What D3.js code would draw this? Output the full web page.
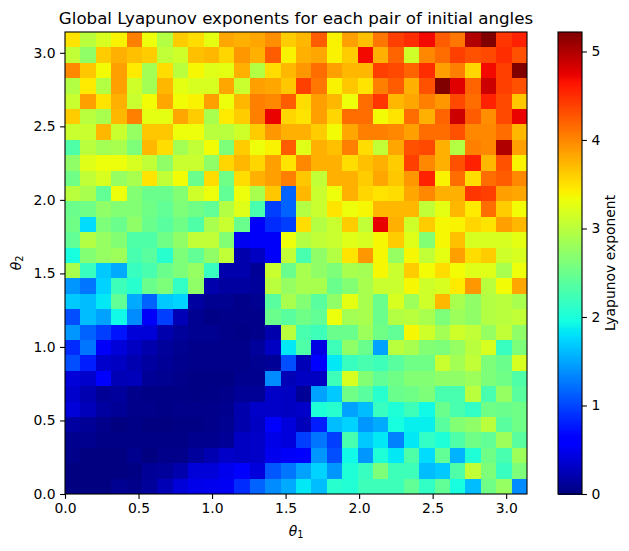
<!DOCTYPE html>
<html>
<head>
<meta charset="utf-8">
<script src="https://cdnjs.cloudflare.com/ajax/libs/d3/7.8.5/d3.min.js"></script>
<style>
  body { margin: 0; background: #fff; }
  text { font-family: "DejaVu Sans", sans-serif; fill: #000; }
  .tick text { font-size: 13.9px; }
  .domain, .tick line { stroke: #000; stroke-width: 1.1px; }
</style>
</head>
<body>
<div id="chart"></div>
<script>
// one row per theta2 value, top row of the picture first
let row29 = [3.49,3.0,3.19,3.41,4.05,3.33,2.96,3.62,3.53,3.28,3.83,3.78,3.83,3.96,3.62,3.74,4.24,3.41,3.87,3.69,4.1,4.4,4.5,4.7,4.24,4.1,5.0,5.22,4.45,4.57];
let row28 = [3.05,2.74,3.62,3.78,3.69,3.62,3.05,3.14,3.69,3.74,3.57,3.91,3.78,4.24,3.41,3.78,3.83,3.41,3.62,4.7,3.78,4.2,3.14,4.0,4.15,4.4,4.3,4.35,4.5,4.3];
let row27 = [4.0,3.65,3.36,3.87,3.45,2.86,3.53,3.0,3.38,3.24,3.28,3.78,2.96,3.53,3.74,3.91,4.15,3.87,3.74,3.74,4.4,4.35,4.2,4.5,3.87,4.05,3.57,4.7,4.4,5.22];
let row26 = [2.96,3.45,2.96,3.87,3.14,2.86,3.74,3.28,3.19,3.19,3.83,3.1,3.87,3.83,3.65,4.4,4.1,3.41,3.65,3.49,4.05,4.24,3.78,4.3,5.22,4.78,4.2,4.87,4.4,4.3];
let row25 = [3.1,3.87,3.49,3.78,3.1,3.36,3.83,3.36,3.41,3.87,3.33,3.74,4.05,4.0,4.24,3.53,3.87,3.74,3.33,4.15,4.45,3.74,3.83,4.05,3.91,4.35,4.15,4.57,4.35,3.65];
let row24 = [3.62,3.0,2.9,3.74,4.05,3.28,3.28,3.83,3.62,2.9,3.45,3.62,4.05,4.74,3.57,3.49,3.87,3.57,4.15,4.15,3.36,3.49,4.15,3.78,4.2,4.87,4.24,3.96,4.35,4.74];
let row23 = [3.1,3.1,3.74,3.1,2.78,3.65,3.65,3.33,3.33,3.0,3.0,3.14,3.62,3.91,3.78,3.78,3.62,3.36,3.83,4.05,4.05,4.0,3.87,4.15,4.15,4.3,4.0,4.0,4.15,3.74];
let row22 = [2.33,3.0,2.86,2.9,2.62,3.74,3.53,2.86,3.05,3.36,2.62,3.62,3.33,3.41,4.24,3.24,3.78,3.69,4.05,3.53,3.05,3.83,4.3,4.35,3.78,2.96,4.05,4.0,5.0,3.87];
let row21 = [2.74,3.24,3.33,3.33,3.19,3.05,2.74,3.1,3.1,2.74,3.57,3.74,3.57,3.87,3.49,4.0,3.78,3.78,3.53,3.69,3.78,3.62,4.4,4.0,3.78,4.3,4.57,3.74,4.3,3.41];
let row20 = [2.54,3.05,3.19,2.78,2.9,3.49,3.05,3.36,2.5,3.53,2.54,3.53,3.78,3.87,4.05,3.65,3.05,3.78,3.78,3.62,3.83,3.65,3.91,4.57,3.41,4.15,3.53,4.15,4.24,4.0];
let row19 = [3.0,2.9,2.44,3.33,2.66,2.5,2.5,2.66,3.14,3.33,2.44,3.33,2.9,3.65,1.16,3.74,3.1,3.33,3.78,3.57,3.49,3.53,3.83,4.0,3.78,3.78,4.45,4.4,3.87,3.83];
let row18 = [2.5,2.54,2.74,2.66,2.66,2.54,2.44,2.62,2.54,2.44,2.96,3.24,2.28,0.97,1.16,2.96,3.1,3.49,3.33,3.38,3.74,3.74,3.74,3.05,3.28,3.74,3.45,4.15,3.62,3.36];
let row17 = [2.54,1.78,2.62,2.5,2.74,2.5,2.39,2.54,2.33,2.9,3.1,2.5,0.55,0.87,0.97,3.53,2.96,3.1,3.62,3.05,4.75,3.78,3.14,3.62,3.38,3.41,3.57,3.49,3.87,3.74];
let row16 = [2.44,2.96,2.78,2.66,2.33,2.33,2.54,2.74,3.05,3.05,2.66,0.52,0.55,0.55,3.33,2.96,3.05,3.1,3.24,3.19,3.38,3.62,3.24,2.66,3.38,3.69,3.19,3.19,3.19,3.28];
let row15 = [1.98,2.66,2.78,2.82,2.28,2.39,2.08,2.62,2.44,2.74,3.05,0.2,0.3,0.55,3.05,2.28,2.74,2.96,3.49,3.91,3.38,2.78,3.38,3.05,3.28,3.87,3.53,3.62,3.14,3.19];
let row14 = [2.9,2.18,1.68,1.52,2.18,2.28,2.5,2.62,2.78,2.18,0.2,0.2,0.1,3.1,2.5,2.9,2.74,2.62,2.9,2.86,3.38,3.1,3.62,3.36,3.53,3.36,3.24,3.24,2.9,3.33];
let row13 = [1.42,1.25,1.73,2.22,2.08,2.5,2.62,2.14,2.74,0.2,0.15,0.15,0.12,3.0,2.78,2.9,2.9,2.5,2.66,2.9,3.1,3.1,3.38,3.14,3.19,3.45,3.91,3.0,3.36,3.83];
let row12 = [1.68,1.62,1.84,2.44,1.52,1.16,1.68,1.73,0.15,0.08,0.08,0.05,0.08,2.39,2.9,2.66,2.39,2.74,3.28,2.9,2.5,3.19,2.82,3.14,3.74,2.9,2.74,2.96,3.0,2.9];
let row11 = [1.05,1.62,1.48,1.93,1.37,0.55,0.97,0.25,0.08,0.03,0.05,0.05,0.05,2.5,2.39,2.54,2.44,3.33,2.86,2.9,2.5,2.96,3.0,2.9,2.62,2.82,2.74,2.96,3.0,3.05];
let row10 = [1.42,1.16,0.97,0.75,0.4,0.4,0.2,0.12,0.08,0.08,0.05,0.03,0.05,0.2,3.0,2.28,2.22,2.5,2.5,2.82,2.54,2.44,3.38,3.14,2.86,3.14,3.05,2.78,3.05,2.74];
let row09 = [0.87,1.25,0.55,0.4,0.3,0.2,0.12,0.08,0.05,0.05,0.05,0.05,0.12,0.3,1.84,2.33,0.45,2.22,2.74,2.5,1.48,3.0,2.9,2.66,2.62,2.78,3.0,3.19,2.18,2.62];
let row08 = [1.05,0.8,0.35,0.3,0.22,0.15,0.1,0.07,0.05,0.05,0.05,0.05,0.08,0.1,1.05,0.25,0.57,1.84,2.18,2.28,2.22,2.39,2.54,2.54,3.1,2.86,3.05,2.62,2.5,3.19];
let row07 = [0.4,0.35,0.57,0.25,0.27,0.1,0.08,0.05,0.02,0.02,0.02,0.07,0.07,1.37,0.25,0.3,0.3,2.22,3.19,2.66,2.44,2.54,2.66,2.66,2.74,2.74,2.82,2.62,2.54,2.33];
let row06 = [0.35,0.22,0.1,0.13,0.05,0.03,0.03,0.03,0.02,0.03,0.05,0.1,0.1,0.33,0.3,0.1,1.48,1.68,2.54,2.39,2.08,2.5,2.54,2.62,2.28,2.28,3.0,2.28,2.78,2.39];
let row05 = [0.4,0.27,0.15,0.1,0.05,0.05,0.03,0.05,0.05,0.05,0.07,0.2,0.33,0.33,0.3,0.33,2.02,2.08,1.48,1.62,2.18,2.02,2.22,1.93,2.5,2.28,2.14,2.54,2.5,2.54];
let row04 = [0.15,0.1,0.05,0.0,0.03,0.0,0.0,0.02,0.02,0.05,0.08,0.2,0.3,0.57,0.42,0.27,0.8,1.62,1.73,1.42,1.52,1.98,1.88,1.88,2.39,2.66,2.74,3.0,2.39,2.54];
let row03 = [0.07,0.07,0.03,0.03,0.03,0.03,0.03,0.03,0.07,0.07,0.1,0.3,0.33,0.47,0.42,0.97,1.25,0.97,2.28,1.68,1.84,1.32,1.84,2.14,2.02,2.33,2.54,2.44,2.82,2.39];
let row02 = [0.05,0,0,0,0.07,0,0.05,0.05,0.13,0.22,0.33,0.3,0.33,0.5,0.55,0.58,1.42,1.05,1.93,1.42,2.02,1.84,2.33,1.78,2.44,1.57,2.02,2.54,2.28,2.82];
let row01 = [0,0,0,0,0.02,0.1,0.12,0.2,0.4,0.4,0.5,0.57,0.42,1.1,1.25,1.48,1.73,1.42,2.02,2.18,2.62,2.22,2.22,1.62,1.68,2.33,3.05,2.62,2.18,2.62];
let row00 = [0,0,0,0.08,0.05,0.12,0.25,0.4,0.48,0.5,0.53,0.87,1.16,1.37,1.52,1.84,1.62,2.08,2.05,2.22,2.22,2.22,2.44,2.14,2.44,1.98,1.62,2.54,2.78,1.37];

let lyapunov = [row29,row28,row27,row26,row25,row24,row23,row22,row21,row20,row19,row18,row17,row16,row15,
                row14,row13,row12,row11,row10,row09,row08,row07,row06,row05,row04,row03,row02,row01,row00];

let xTicks = [0.0, 0.5, 1.0, 1.5, 2.0, 2.5, 3.0];
let yTicks = [0.0, 0.5, 1.0, 1.5, 2.0, 2.5, 3.0];
let barTicks = [0, 1, 2, 3, 4, 5];
let thetaMax = Math.PI;
let valueMax = 5.22;

let titleText = "Global Lyapunov exponents for each pair of initial angles";
let barLabel = "Lyapunov exponent";

let left = 65, right = 527, top_ = 32, bottom = 494;
let barLeft = 558, barRight = 582;

// matplotlib jet, channel by channel
let redCh = d3.scaleLinear().domain([0, 0.35, 0.66, 0.89, 1]).range([0, 0, 1, 1, 0.5]);
let greenCh = d3.scaleLinear().domain([0, 0.125, 0.375, 0.64, 0.91, 1]).range([0, 0, 1, 1, 0, 0]);
let blueCh = d3.scaleLinear().domain([0, 0.11, 0.34, 0.65, 1]).range([0.5, 1, 1, 0, 0]);
let norm = d3.scaleLinear().domain([0, valueMax]).range([0, 1]).clamp(true);
let jet = (v) => {
    let t = norm(v);
    return d3.rgb(redCh(t) * 255, greenCh(t) * 255, blueCh(t) * 255);
};

let svg = d3.select("#chart").append("svg")
    .attr("width", 629)
    .attr("height", 551);

let xScale = d3.scaleLinear().domain([0, thetaMax]).range([left, right]);
let yScale = d3.scaleLinear().domain([0, thetaMax]).range([bottom, top_]);
let colScale = d3.scaleBand().domain(d3.range(30)).range([left, right]);
let rowScale = d3.scaleBand().domain(d3.range(30)).range([top_, bottom]);

let rows = svg.append("g").selectAll("g")
    .data(lyapunov)
    .join("g")
    .attr("transform", (d, i) => `translate(0, ${rowScale(i)})`);

rows.selectAll("rect")
    .data((d) => d)
    .join("rect")
    .attr("x", (d, i) => colScale(i))
    .attr("width", colScale.bandwidth())
    .attr("height", rowScale.bandwidth())
    .attr("fill", (d) => jet(d))
    .attr("shape-rendering", "crispEdges");

// frame
svg.append("rect")
    .attr("x", left).attr("y", top_)
    .attr("width", right - left).attr("height", bottom - top_)
    .attr("fill", "none").attr("stroke", "#000").attr("stroke-width", 1.1);

let x_axis = d3.axisBottom(xScale).tickValues(xTicks).tickFormat(d3.format(".1f")).tickSize(4.9).tickPadding(4.5);
let y_axis = d3.axisLeft(yScale).tickValues(yTicks).tickFormat(d3.format(".1f")).tickSize(4.9).tickPadding(4.5);

svg.append("g").attr("transform", `translate(0, ${bottom})`).call(x_axis).select(".domain").remove();
svg.append("g").attr("transform", `translate(${left}, 0)`).call(y_axis).select(".domain").remove();

// colour bar
let barScale = d3.scaleLinear().domain([0, valueMax]).range([bottom, top_]);
let barSteps = d3.range(256).map((i) => (i + 0.5) / 256 * valueMax);
svg.append("g").selectAll("rect")
    .data(barSteps)
    .join("rect")
    .attr("x", barLeft)
    .attr("width", barRight - barLeft)
    .attr("y", (d) => barScale(d + valueMax / 512))
    .attr("height", (bottom - top_) / 256 + 0.5)
    .attr("fill", (d) => jet(d))
    .attr("shape-rendering", "crispEdges");

svg.append("rect")
    .attr("x", barLeft).attr("y", top_)
    .attr("width", barRight - barLeft).attr("height", bottom - top_)
    .attr("fill", "none").attr("stroke", "#000").attr("stroke-width", 1.1);

let bar_axis = d3.axisRight(barScale).tickValues(barTicks).tickFormat(d3.format("d")).tickSize(4.9).tickPadding(4.5);
svg.append("g").attr("transform", `translate(${barRight}, 0)`).call(bar_axis).select(".domain").remove();

svg.append("text")
    .attr("transform", `translate(615, 263) rotate(-90)`)
    .attr("text-anchor", "middle")
    .attr("font-size", "13.9px")
    .text(barLabel);

svg.append("text")
    .attr("x", (left + right) / 2).attr("y", 24)
    .attr("text-anchor", "middle")
    .attr("font-size", "16.67px")
    .text(titleText);

// theta labels with subscripts
let thetaLabel = (sel, sub) => {
    sel.attr("text-anchor", "middle").attr("font-size", "13.9px");
    sel.append("tspan").attr("font-style", "italic").text("\u03b8");
    sel.append("tspan").attr("font-size", "9.7px").attr("dy", 2).text(sub);
};

svg.append("text").attr("x", (left + right) / 2).attr("y", 536).call(thetaLabel, "1");
svg.append("text").attr("transform", `translate(21, 263) rotate(-90)`).call(thetaLabel, "2");
</script>
</body>
</html>
